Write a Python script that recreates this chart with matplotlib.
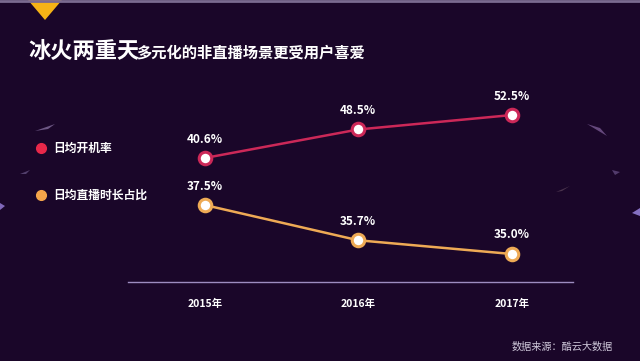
import numpy as np
import matplotlib.pyplot as plt
from matplotlib.patches import Polygon

plt.rcParams['font.family'] = ['Noto Sans CJK SC', 'DejaVu Sans']

years = ['2015', '2016', '2017']
kaiji = [40.6, 48.5, 52.5]        # 日均开机率
zhibo = [37.5, 35.7, 35.0]        # 日均直播时长占比
kaiji_labels = ['40.6%', '48.5%', '52.5%']
zhibo_labels = ['37.5%', '35.7%', '35.0%']

bg = '#1a0629'
red = '#cc2858'
orange = '#eeaa55'

fig = plt.figure(figsize=(6.4, 3.61), dpi=100)
fig.patch.set_facecolor(bg)

# top border line and yellow triangle
fig.add_artist(plt.Line2D([0, 1], [0.997, 0.997], color='#7a6a90', lw=2, transform=fig.transFigure))
fig.add_artist(Polygon([[28/640, 1], [62/640, 1], [45/640, 1 - 20/361]], closed=True,
                       facecolor='#f5b316', edgecolor='none', transform=fig.transFigure))

# faint streaks in the background
for pts, c, al in [([[587, 124], [607, 136], [600, 128]], '#b08ad0', 0.5),
                   ([[612, 170], [620, 172], [615, 175]], '#8a70b0', 0.5),
                   ([[556, 192], [570, 186], [562, 191]], '#7a6070', 0.5),
                   ([[632, 213], [640, 208], [640, 216]], '#a08ae8', 0.8),
                   ([[35, 131], [55, 124], [48, 129]], '#c0a8e0', 0.5),
                   ([[20, 174], [30, 170], [26, 174]], '#8a78b0', 0.5),
                   ([[0, 203], [5, 206], [0, 210]], '#9a80e0', 0.8)]:
    fig.add_artist(Polygon([[x/640, 1 - y/361] for x, y in pts], closed=True,
                           facecolor=c, edgecolor='none', alpha=al, transform=fig.transFigure))

ax = fig.add_axes([128/640, (361-282)/361, (573-128)/640, 182/361])
ax.set_facecolor('none')
ax2 = ax.twinx()
ax2.set_facecolor('none')

x = np.arange(len(years))
ax.plot(x, kaiji, color=red, lw=1.8, marker='o', ms=9, mfc='white', mec=red, mew=2.2, zorder=3)
ax2.plot(x, zhibo, color=orange, lw=1.8, marker='o', ms=9, mfc='white', mec=orange, mew=2.2, zorder=3)

for i in range(len(years)):
    ax.annotate(kaiji_labels[i], (x[i], kaiji[i]), xytext=(0, 9), textcoords='offset points',
                ha='center', va='bottom', color='white', fontsize=8.5, fontweight='bold')
    ax2.annotate(zhibo_labels[i], (x[i], zhibo[i]), xytext=(0, 9), textcoords='offset points',
                 ha='center', va='bottom', color='white', fontsize=8.5, fontweight='bold')

ax.set_xlim(-0.5, 2.4)
ax.set_ylim(6.25, 56.67)
ax2.set_ylim(33.57, 42.86)

for a in (ax, ax2):
    for s in ['top', 'left', 'right']:
        a.spines[s].set_visible(False)
    a.set_yticks([])
ax2.spines['bottom'].set_visible(False)
ax.spines['bottom'].set_color('#9d8cc0')
ax.spines['bottom'].set_linewidth(1)
ax.set_xticks(x)
ax.set_xticklabels([y + '年' for y in years], color='white', fontsize=7.5, fontweight='bold')
ax.tick_params(axis='x', length=0, pad=12)

# title
fig.text(28/640, 1 - 51/361, '冰火两重天', color='white', fontsize=16, fontweight='bold', va='center')
fig.text(136/640, 1 - 53/361, '多元化的非直播场景更受用户喜爱', color='white', fontsize=11, fontweight='bold', va='center')

# legend
fig.add_artist(plt.Line2D([41/640], [1 - 148/361], marker='o', ms=7, color='#e8284a', lw=0))
fig.text(53/640, 1 - 148/361, '日均开机率', color='white', fontsize=8.5, fontweight='bold', va='center')
fig.add_artist(plt.Line2D([41/640], [1 - 195/361], marker='o', ms=7, color='#f5a54a', lw=0))
fig.text(53/640, 1 - 195/361, '日均直播时长占比', color='white', fontsize=8.5, fontweight='bold', va='center')

fig.text(613/640, 1 - 347/361, '数据来源：酷云大数据', color='#cfc8da', fontsize=7.3, ha='right', va='center')

plt.savefig('out.png', dpi=100, facecolor=bg)
